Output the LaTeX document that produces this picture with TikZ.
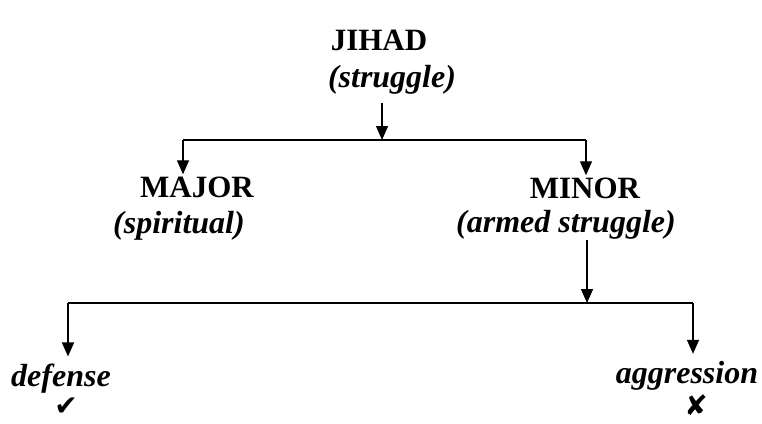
\documentclass[tikz,border=0pt]{standalone}
\usepackage{fontspec}
\setmainfont{Liberation Serif}
\newfontfamily\symfont{DejaVu Sans}
\usetikzlibrary{arrows.meta}
\tikzset{
  lbl/.style={anchor=base, inner sep=2pt, font=\fontsize{31}{36}\selectfont\bfseries},
  sub/.style={anchor=base, inner sep=1pt, font=\fontsize{32}{38}\selectfont\bfseries\itshape},
  symb/.style={anchor=base, inner sep=0pt, font=\fontsize{28}{32}\selectfont\symfont},
  arr/.style={line width=1.4pt, -{Triangle[length=14pt,width=12pt]}},
  ln/.style={line width=1.4pt}
}
\begin{document}
\begin{tikzpicture}[x=1pt,y=1pt]
\useasboundingbox[fill=white] (0,0) rectangle (762,-423);
% text nodes
\node[lbl] (jihad) at (379,-50) {JIHAD};
\node[sub] (jstr) at (392,-87) {(struggle)};
\node[lbl] (major) at (197,-197) {MAJOR};
\node[sub] (spir) at (179,-233) {(spiritual)};
\node[lbl] (minor) at (585,-198) {MINOR};
\node[sub] (armed) at (566,-232) {(armed struggle)};
\node[sub, outer sep=6pt] (def) at (61,-386) {defense};
\node[sub, outer sep=6pt] (agg) at (687,-383) {aggression};
\node[symb] (check) at (66,-415) {✔};
\node[symb] (cross) at (696,-415) {✘};
% junction coordinates
\coordinate (b1) at (382,-140);
\coordinate (b1l) at (183,-140);
\coordinate (b1r) at (586,-140);
\coordinate (b2) at (587,-303);
\coordinate (b2l) at (68,-303);
\coordinate (b2r) at (693,-303);
% connectors
\draw[arr] (jstr.south -| b1) ++(0,-8) -- (b1);
\draw[ln] (b1l) -- (b1r);
\draw[arr] (b1l) -- (b1l |- major.north);
\draw[arr] (b1r) -- (b1r |- minor.north);
\draw[arr] (armed.south -| b2) -- (b2);
\draw[ln] (b2l) -- (b2r);
\draw[arr] (b2l) -- (b2l |- def.north);
\draw[arr] (b2r) -- (b2r |- agg.north);
\end{tikzpicture}
\end{document}
